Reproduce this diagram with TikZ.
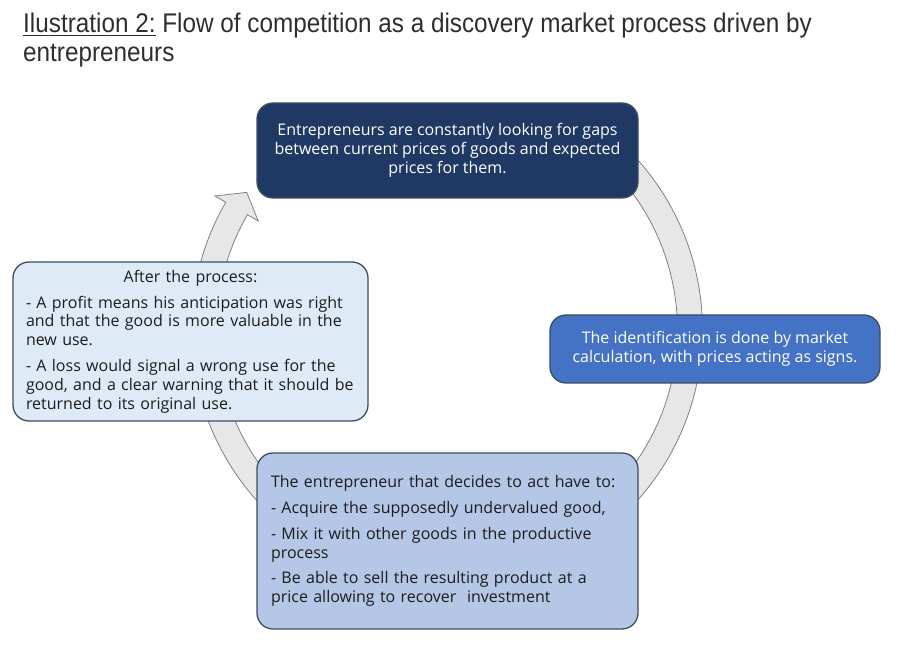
\documentclass[tikz,border=0pt]{standalone}
\usepackage{fontspec}
\setmainfont{Open Sans}
\newfontfamily\headfont[FakeStretch=0.9]{Liberation Sans}
\definecolor{navy}{HTML}{203864}
\definecolor{midblue}{HTML}{4472C4}
\definecolor{paleblue}{HTML}{DEEBF7}
\definecolor{softblue}{HTML}{B4C7E7}
\definecolor{rim}{HTML}{3E4D60}
\definecolor{ringfill}{HTML}{E8E7E7}
\definecolor{ringline}{HTML}{808080}
\definecolor{ink}{HTML}{1C1C1C}
\definecolor{headgray}{HTML}{2E2E2E}
% underline with a thicker rule
\newcommand\headrule[1]{\setbox0\hbox{#1}\rlap{\rule[-3.5pt]{\wd0}{1.3pt}}\box0\relax}
\begin{document}
\begin{tikzpicture}[
  x = 1pt, y = 1pt,
  every node/.style = {font=\fontsize{16}{18.8}\selectfont, inner sep=0pt},
  stage/.style = {draw=rim, line width=1.3pt, rounded corners=16pt},
  headline/.style = {font=\headfont\fontsize{27}{29}\selectfont, text=headgray, anchor=base west},
  ring/.style = {fill=ringfill, draw=ringline, line width=0.8pt},
]
\useasboundingbox (0,0) rectangle (900,647);

% title
\node[headline] (head1) at (23,614)
  {\headrule{Ilustration 2:} Flow of competition as a discovery market process driven by};
\node[headline] (head2) at (23,585) {entrepreneurs};

% the cycle
\begin{scope}[shift={(447,317)}]
\filldraw[ring] (45:255.5) arc[start angle=45, end angle=-210, radius=255.5]
  -- (-210:268) -- (-214.5:243) -- (-210:218) -- (-210:230.5)
  arc[start angle=-210, end angle=45, radius=230.5] -- cycle;
\end{scope}

% stages
\node[stage, fill=navy, text=white, align=center,
      minimum width=381pt, minimum height=95pt] (seek) at (447.5,496.5)
  {Entrepreneurs are constantly looking for gaps\\
   between current prices of goods and expected\\
   prices for them.};

\node[stage, fill=midblue, text=white, align=center,
      minimum width=330pt, minimum height=68pt] (calc) at (715,298)
  {The identification is done by market\\
   calculation, with prices acting as signs.};

\node[stage, fill=softblue, text=ink, align=left, text width=353pt,
      minimum width=381pt, minimum height=176pt] (act) at (447.5,106)
  {The entrepreneur that decides to act have to:\\[7pt]
   - Acquire the supposedly undervalued good,\\[7pt]
   - Mix it with other goods in the productive\\
   process\\[7pt]
   - Be able to sell the resulting product at a\\
   price allowing to recover\ \ investment};

\node[stage, fill=paleblue, text=ink, align=left, text width=329pt,
      minimum width=355pt, minimum height=159pt] (after) at (190.5,305.5)
  {\hbox to\hsize{\hfil After the process:\hfil}\\[7pt]
   - A profit means his anticipation was right\\
   and that the good is more valuable in the\\
   new use.\\[7pt]
   - A loss would signal a wrong use for the\\
   good, and a clear warning that it should be\\
   returned to its original use.};

\end{tikzpicture}
\end{document}
